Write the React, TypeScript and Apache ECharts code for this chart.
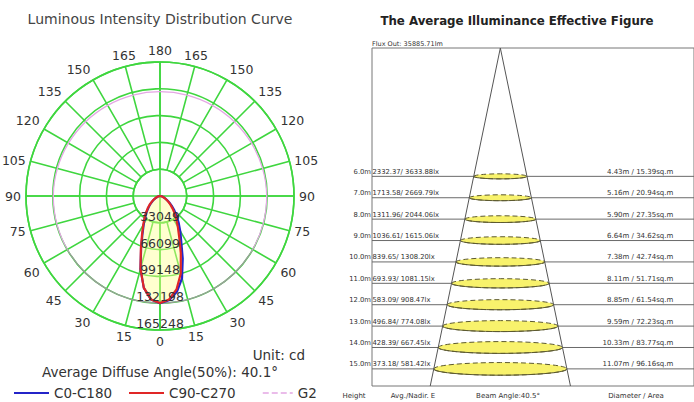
import React, { useEffect, useRef } from 'react';
import * as echarts from 'echarts';

const FONT = '"DejaVu Sans", Verdana, sans-serif';

// ---- Polar (luminous intensity) data ----
const gammaAngles = [0, 5, 10, 15, 20, 25, 30, 35, 40, 45, 50, 55, 60, 65, 70, 75, 80, 85, 90];
const intensityC0 = [132200, 129000, 120000, 105000, 82000, 62000, 50000, 40000, 32000, 25000, 19000, 14000, 10000, 7000, 4600, 2800, 1500, 600, 0];
const intensityC180 = [132200, 128000, 115000, 93000, 68000, 51000, 40000, 32000, 25500, 20000, 15500, 11500, 8300, 5800, 3800, 2400, 1300, 500, 0];
const intensityC90 = [132000, 128000, 117000, 99000, 75000, 56000, 44000, 35000, 28000, 22000, 17000, 12800, 9300, 6600, 4400, 2800, 1500, 650, 0];
const intensityC270 = [132000, 128000, 115000, 93000, 69000, 52500, 41500, 33500, 27000, 21500, 16800, 12600, 9200, 6500, 4400, 2800, 1500, 650, 0];
const g2Angles = [0, 15, 30, 45, 60, 75, 90, 105, 120, 135, 150, 165, 180];
const g2Values = [132200, 132200, 132100, 132000, 131900, 131800, 131600, 131000, 130300, 129600, 129000, 128700, 128600];
const radiusTickLabels = ['33049', '66099', '99148', '132198', '165248'];
const maxIntensity = 165248;
const unitText = 'Unit: cd';
const diffuseText = 'Average Diffuse Angle(50%): 40.1°';

// ---- Illuminance figure data ----
const heights = [6, 7, 8, 9, 10, 11, 12, 13, 14, 15];
const avgLux = [2332.37, 1713.58, 1311.96, 1036.61, 839.65, 693.93, 583.09, 496.84, 428.39, 373.18];
const nadirLux = [3633.88, 2669.79, 2044.06, 1615.06, 1308.2, 1081.15, 908.47, 774.08, 667.45, 581.42];
const diameters = [4.43, 5.16, 5.9, 6.64, 7.38, 8.11, 8.85, 9.59, 10.33, 11.07];
const areas = [15.39, 20.94, 27.35, 34.62, 42.74, 51.71, 61.54, 72.23, 83.77, 96.16];
const beamAngle = 40.5;
const fluxOut = 35885.71;
const maxHeight = 15.8;

const GREEN = '#3fd63f';
const TXT = '#333';

function lobe(left: number[], right: number[]) {
  const pts: number[][] = [];
  for (let i = gammaAngles.length - 1; i >= 0; i--) pts.push([left[i], gammaAngles[i]]);
  for (let i = 1; i < gammaAngles.length; i++) pts.push([right[i], 360 - gammaAngles[i]]);
  return pts;
}

function g2Curve() {
  const pts: number[][] = [];
  for (let i = 0; i < g2Angles.length; i++) pts.push([g2Values[i], g2Angles[i]]);
  for (let i = g2Angles.length - 2; i >= 0; i--) pts.push([g2Values[i], 360 - g2Angles[i]]);
  return pts;
}

function buildOption(): any {
  const step = maxIntensity / 5;
  const center = [160, 196];
  const R = 134;
  const coneHalf = Math.tan(((beamAngle / 2) * Math.PI) / 180) * maxHeight;
  const pink = '#e4a6e4';
  const grey = '#9c9c9c';

  const rowData = heights.map((h, i) => [h, diameters[i], avgLux[i], nadirLux[i], areas[i]]);

  const legendBase = {
    top: 381,
    itemWidth: 35,
    itemHeight: 10,
    itemStyle: { opacity: 0 },
    textStyle: { fontSize: 13.5, color: TXT, fontFamily: FONT },
  };

  return {
    animation: false,
    backgroundColor: '#fff',
    textStyle: { fontFamily: FONT },
    polar: [
      { center, radius: [R / 5, R] },
      { center, radius: R },
    ],
    angleAxis: [
      {
        polarIndex: 0,
        type: 'value',
        min: 0,
        max: 360,
        interval: 15,
        startAngle: 270,
        clockwise: true,
        axisLine: { show: true, lineStyle: { color: GREEN, width: 1.6 } },
        axisTick: { show: false },
        splitLine: { show: true, lineStyle: { color: GREEN, width: 1.6 } },
        axisLabel: {
          margin: 5,
          color: TXT,
          fontSize: 12.5,
          fontFamily: FONT,
          formatter: (v: number) => String(v <= 180 ? v : 360 - v),
        },
      },
      {
        polarIndex: 1,
        type: 'value',
        min: 0,
        max: 360,
        interval: 90,
        startAngle: 270,
        clockwise: true,
        axisLine: { show: false },
        axisTick: { show: false },
        axisLabel: { show: false },
        splitLine: { show: true, lineStyle: { color: GREEN, width: 1.6 } },
      },
    ],
    radiusAxis: [
      {
        polarIndex: 0,
        type: 'value',
        min: 0,
        max: 4,
        interval: 1,
        axisLine: { show: false },
        axisTick: { show: false },
        axisLabel: { show: false },
        splitLine: { show: true, lineStyle: { color: GREEN, width: 1.6 } },
      },
      {
        polarIndex: 1,
        type: 'value',
        min: 0,
        max: maxIntensity,
        interval: step,
        z: 10,
        axisLine: { show: false },
        axisTick: { show: false },
        splitLine: { show: false },
        axisLabel: {
          margin: 0,
          align: 'center',
          verticalAlign: 'bottom',
          color: TXT,
          fontSize: 12.5,
          fontFamily: FONT,
          formatter: (v: number) => {
            const idx = Math.round(v / step);
            return idx === 0 ? '' : radiusTickLabels[idx - 1];
          },
        },
      },
    ],
    grid: {
      left: 372,
      top: 48,
      width: 340,
      height: 338,
      show: true,
      borderColor: '#777',
      borderWidth: 1,
      backgroundColor: 'transparent',
    },
    xAxis: { type: 'value', min: -10.67, max: 16.1, show: false },
    yAxis: { type: 'value', inverse: true, min: 0, max: maxHeight, show: false },
    legend: [
      { ...legendBase, left: 8, data: ['C0-C180'] },
      { ...legendBase, left: 123, data: ['C90-C270'] },
      {
        ...legendBase,
        left: 257,
        itemWidth: 30,
        data: [{ name: 'G2', lineStyle: { color: pink, type: 'dashed', width: 1.5 } }],
      },
    ],
    series: [
      {
        name: 'G2',
        type: 'line',
        coordinateSystem: 'polar',
        polarIndex: 1,
        data: g2Curve(),
        symbol: 'none',
        smooth: 0.4,
        lineStyle: {
          width: 1.3,
          color: new echarts.graphic.LinearGradient(0, 0, 0, 1, [
            { offset: 0, color: pink },
            { offset: 0.72, color: pink },
            { offset: 0.77, color: grey },
            { offset: 1, color: grey },
          ]),
        },
        itemStyle: { color: pink },
        z: 3,
      },
      {
        name: 'C0-C180',
        type: 'line',
        coordinateSystem: 'polar',
        polarIndex: 1,
        data: lobe(intensityC180, intensityC0),
        symbol: 'none',
        lineStyle: { color: '#2424c8', width: 2.2 },
        itemStyle: { color: '#2424c8' },
        areaStyle: { color: 'rgba(255,255,140,0.6)' },
        z: 4,
      },
      {
        name: 'C90-C270',
        type: 'line',
        coordinateSystem: 'polar',
        polarIndex: 1,
        data: lobe(intensityC270, intensityC90),
        symbol: 'none',
        lineStyle: { color: '#e02626', width: 2.2 },
        itemStyle: { color: '#e02626' },
        z: 5,
      },
      {
        name: 'rows',
        type: 'custom',
        coordinateSystem: 'cartesian2d',
        data: rowData,
        z: 3,
        renderItem: (params: any, api: any) => {
          const h = api.value(0);
          const d = api.value(1);
          const avg = api.value(2);
          const nad = api.value(3);
          const area = api.value(4);
          const cs = params.coordSys;
          const c = api.coord([0, h]);
          const e = api.coord([d / 2, h]);
          const cx = c[0];
          const cy = c[1];
          const rx = e[0] - cx;
          const ry = rx * 0.095;
          const left = cs.x;
          const right = cs.x + cs.width;
          const bottomArc: number[][] = [];
          for (let k = 0; k <= 24; k++) {
            const t = (Math.PI * k) / 24;
            bottomArc.push([cx + rx * Math.cos(t), cy + ry * Math.sin(t)]);
          }
          const ts = { fill: TXT, fontSize: 6.8, fontFamily: FONT };
          return {
            type: 'group',
            children: [
              { type: 'line', shape: { x1: left, y1: cy, x2: right, y2: cy }, style: { stroke: '#6a6a6a', lineWidth: 1 } },
              {
                type: 'ellipse',
                shape: { cx, cy, rx, ry },
                style: { fill: '#f8f26c', stroke: '#5d5a30', lineWidth: 1, lineDash: [5, 3] },
              },
              { type: 'polyline', shape: { points: bottomArc }, style: { fill: 'none', stroke: '#5d5a30', lineWidth: 1 } },
              {
                type: 'text', x: left - 1, y: cy - 1,
                style: { ...ts, text: h.toFixed(1) + 'm', align: 'right', verticalAlign: 'bottom' },
              },
              {
                type: 'text', x: left + 0.5, y: cy - 1,
                style: { ...ts, text: avg.toFixed(2) + '/ ' + nad.toFixed(2) + 'lx', align: 'left', verticalAlign: 'bottom' },
              },
              {
                type: 'text', x: cx + 173, y: cy - 1,
                style: { ...ts, fontSize: 7, text: d.toFixed(2) + 'm / ' + area.toFixed(2) + 'sq.m', align: 'right', verticalAlign: 'bottom' },
              },
            ],
          };
        },
      },
      {
        name: 'cone',
        type: 'line',
        coordinateSystem: 'cartesian2d',
        data: [[-coneHalf, maxHeight], [0, 0], [coneHalf, maxHeight]],
        symbol: 'none',
        lineStyle: { color: '#555', width: 1 },
        z: 6,
        silent: true,
      },
    ],
    graphic: [
      {
        type: 'text', x: 160, y: 19,
        style: { text: 'Luminous Intensity Distribution Curve', fill: '#444', fontSize: 14, fontFamily: FONT, align: 'center', verticalAlign: 'middle' },
      },
      {
        type: 'text', x: 305, y: 355,
        style: { text: unitText, fill: TXT, fontSize: 13.5, fontFamily: FONT, align: 'right', verticalAlign: 'middle' },
      },
      {
        type: 'text', x: 160, y: 372,
        style: { text: diffuseText, fill: TXT, fontSize: 13.5, fontFamily: FONT, align: 'center', verticalAlign: 'middle' },
      },
      {
        type: 'text', x: 517, y: 21,
        style: { text: 'The Average Illuminance Effective Figure', fill: '#222', fontSize: 11.8, fontWeight: 'bold', fontFamily: FONT, align: 'center', verticalAlign: 'middle' },
      },
      {
        type: 'text', x: 372, y: 47,
        style: { text: 'Flux Out: ' + fluxOut.toFixed(2) + 'lm', fill: TXT, fontSize: 6.5, fontFamily: FONT, align: 'left', verticalAlign: 'bottom' },
      },
      {
        type: 'text', x: 354, y: 396,
        style: { text: 'Height', fill: TXT, fontSize: 7, fontFamily: FONT, align: 'center', verticalAlign: 'middle' },
      },
      {
        type: 'text', x: 413, y: 396,
        style: { text: 'Avg./Nadir. E', fill: TXT, fontSize: 7, fontFamily: FONT, align: 'center', verticalAlign: 'middle' },
      },
      {
        type: 'text', x: 508, y: 396,
        style: { text: 'Beam Angle:' + beamAngle.toFixed(1) + '°', fill: TXT, fontSize: 7, fontFamily: FONT, align: 'center', verticalAlign: 'middle' },
      },
      {
        type: 'text', x: 636, y: 396,
        style: { text: 'Diameter / Area', fill: TXT, fontSize: 7, fontFamily: FONT, align: 'center', verticalAlign: 'middle' },
      },
    ],
  };
}

export default function App() {
  const ref = useRef<HTMLDivElement>(null);
  useEffect(() => {
    const chart = echarts.init(ref.current!, null, { renderer: 'svg' });
    chart.setOption(buildOption());
    return () => chart.dispose();
  }, []);
  return (
    <div
      ref={ref}
      style={{ position: 'fixed', left: 0, top: 0, width: 694, height: 402, background: '#fff' }}
    />
  );
}
